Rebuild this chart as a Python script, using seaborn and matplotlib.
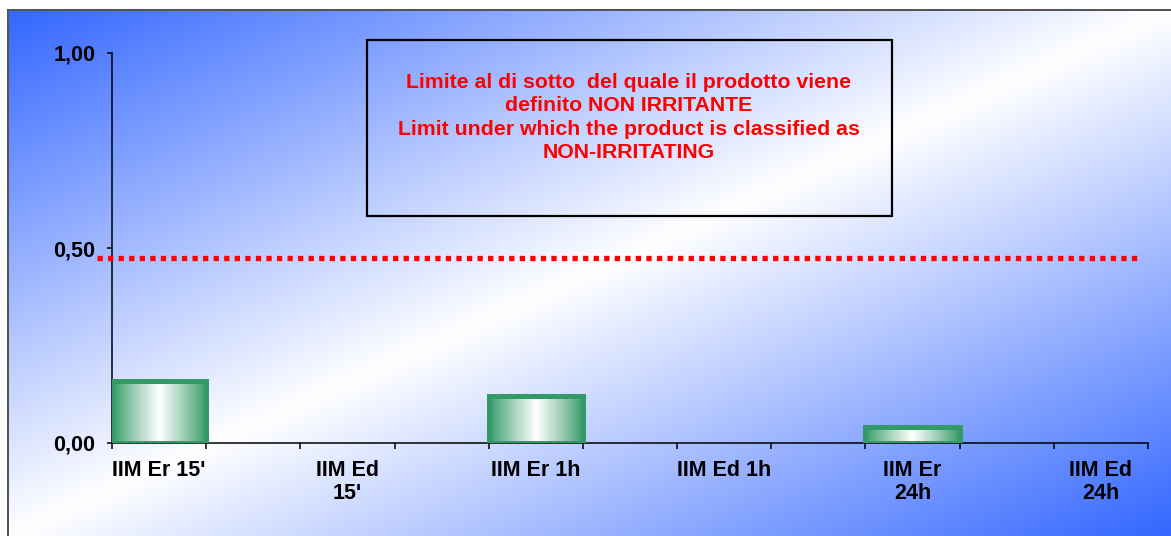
import numpy as np
import pandas as pd
import matplotlib
matplotlib.use("Agg")
import matplotlib.pyplot as plt
from matplotlib.patches import Rectangle
import seaborn as sns

# ---------------- data ----------------
categories = ["IIM Er 15'", "IIM Ed\n15'", "IIM Er 1h", "IIM Ed 1h", "IIM Er\n24h", "IIM Ed\n24h"]
values = [0.16, 0.0, 0.12, 0.0, 0.04, 0.0]
threshold = 0.475
y_ticks = [0.0, 0.5, 1.0]
box_text = ("Limite al di sotto  del quale il prodotto viene\n"
            "definito NON IRRITANTE\n"
            "Limit under which the product is classified as\n"
            "NON-IRRITATING")

# ---------------- style ----------------
sns.set_style("ticks")
plt.rcParams["font.family"] = ["Liberation Sans", "DejaVu Sans"]
plt.rcParams["font.weight"] = "bold"
plt.rcParams["text.color"] = "black"
plt.rcParams["xtick.color"] = "black"
plt.rcParams["ytick.color"] = "black"

W, H = 1171, 536
fig = plt.figure(figsize=(W / 100, H / 100), dpi=100)
fig.patch.set_facecolor("white")

# background diagonal gradient (blue -> white -> blue)
blue = np.array([0.20, 0.40, 1.00])
white = np.array([1.0, 1.0, 1.0])
bx0, by0 = 7, 9
yy, xx = np.mgrid[0:H, 0:W].astype(float)
t = ((xx - bx0) / (W - bx0) + (yy - by0) / (H - by0)) / 2.0
f = np.clip(np.abs(2 * t - 1), 0, 1)[..., None]
img = white + (blue - white) * f
img[:, :bx0] = 1.0
img[:by0, :] = 1.0
img[by0:, bx0:bx0 + 2] = 0.33
img[by0:by0 + 2, bx0:] = 0.33
bg = fig.add_axes([0, 0, 1, 1], zorder=-5)
bg.imshow(img, extent=[0, W, H, 0], aspect="auto", interpolation="bilinear")
bg.set_xlim(0, W)
bg.set_ylim(H, 0)
bg.axis("off")

# ---------------- main axes ----------------
ax = fig.add_axes([112 / W, 1 - 443 / H, 1036 / W, 390 / H], zorder=1)
ax.patch.set_alpha(0)

order = []
for i, c in enumerate(categories):
    order.append(c)
    if i < len(categories) - 1:
        order.append(" " * (i + 1))

df = pd.DataFrame({"cat": categories, "val": values})
green = "#339966"
sns.barplot(data=df, x="cat", y="val", order=order, width=1.0, color=green,
            saturation=1, edgecolor=green, linewidth=3.6, ax=ax, zorder=3)

# gradient fill inside bars
u = np.linspace(0, 1, 256)
prof = 1 - np.abs(2 * u - 1)
gcol = np.array(matplotlib.colors.to_rgb(green))
grad = (gcol + (white - gcol) * prof[:, None] ** 0.9)[None, :, :]
for p in list(ax.patches):
    h = p.get_height()
    if not np.isfinite(h) or h <= 0:
        p.set_visible(False)
        continue
    p.set_facecolor("none")
    x0 = p.get_x()
    w = p.get_width()
    im = ax.imshow(grad, extent=[x0, x0 + w, 0, h], aspect="auto",
                   interpolation="bilinear", zorder=2)
    im.set_clip_path(p)

ax.set_xlim(-0.5, len(order) - 0.5)
ax.set_ylim(0, 1)

# threshold line
ax.axhline(threshold, xmin=-0.0145, xmax=0.992, color="#FF0000", lw=3.8,
           linestyle=(0, (1, 1.0)), dash_capstyle="butt", clip_on=False, zorder=4)

# axes styling
for s in ["top", "right"]:
    ax.spines[s].set_visible(False)
for s in ["left", "bottom"]:
    ax.spines[s].set_color("black")
    ax.spines[s].set_linewidth(1.1)

ax.set_yticks(y_ticks)
ax.set_yticklabels([f"{v:.2f}".replace(".", ",") for v in y_ticks],
                   fontsize=15.5, fontweight="bold", color="black")
ax.tick_params(axis="y", length=3.6, width=1.1, pad=8.5, color="black")

ax.set_xticks(range(len(order)))
ax.set_xticklabels([c if c.strip() else "" for c in order],
                   fontsize=15.5, fontweight="bold", linespacing=1.08, color="black")
ax.tick_params(axis="x", which="major", length=0, pad=12.5)
ax.set_xticks(np.arange(-0.5, len(order), 1.0), minor=True)
ax.tick_params(axis="x", which="minor", length=4.5, width=1.1, color="black",
               direction="out")
ax.set_xlabel("")
ax.set_ylabel("")

# annotation box
fig.add_artist(Rectangle((367 / W, 1 - 216 / H), (892 - 367) / W, (216 - 40) / H,
                         transform=fig.transFigure, fill=False, ec="black", lw=1.6,
                         zorder=5))
fig.text(629 / W, 1 - 117.5 / H, box_text, ha="center", va="center",
         color="#FF0000", fontsize=15.3, fontweight="bold", linespacing=1.27,
         zorder=6)

fig.savefig("out.png", dpi=100)
